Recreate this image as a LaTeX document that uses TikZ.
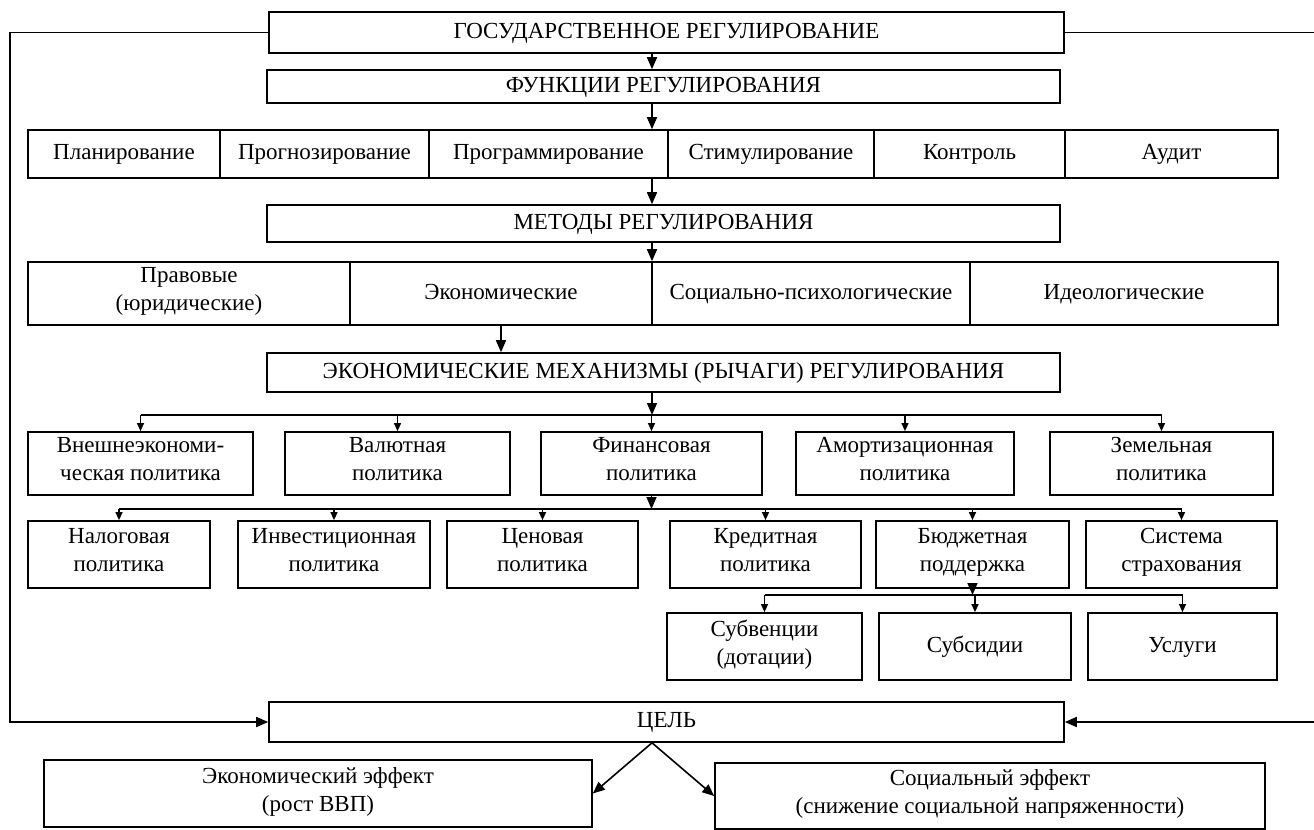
\documentclass[tikz,border=0pt]{standalone}
\usepackage{fontspec}
\setmainfont{Liberation Serif}
\usetikzlibrary{arrows.meta}
\tikzset{
  box/.style = {draw, inner sep=0pt, align=center, font=\fontsize{11.5}{14}\selectfont,
    execute at begin node=\strut, execute at end node=\strut},
  big/.style = {-{Triangle[length=6pt,width=5pt]}},
  small/.style = {-{Triangle[length=4pt,width=3.4pt]}}
}
% cell: name, x1, y1, x2, y2, text (picture units)
\newcommand{\cell}[6]{%
  \node[box, minimum width={(#4-#2)*0.5pt}, minimum height={(#5-#3)*0.5pt}]
    (#1) at ({(#2+#4)/2},{(#3+#5)/2}) {#6};%
}

\begin{document}
\begin{tikzpicture}[x=0.5pt, y=-0.5pt, line width=0.8pt]
  \useasboundingbox (0,0) rectangle (1314,830);
  \coordinate (spine) at (652,0);
  \coordinate (left) at (10,0);
  \coordinate (right) at (1314,0);
  \coordinate (br1) at (0,415);
  \coordinate (br2) at (0,509);
  \coordinate (br3) at (0,595);
  % top
  \cell{gov}{269}{12}{1064}{53}{ГОСУДАРСТВЕННОЕ РЕГУЛИРОВАНИЕ}
  \cell{func}{267}{70}{1060}{103}{ФУНКЦИИ РЕГУЛИРОВАНИЯ}
  \cell{f1}{28}{130}{220}{178}{Планирование}
  \cell{f2}{220}{130}{429}{178}{Прогнозирование}
  \cell{f3}{429}{130}{668}{178}{Программирование}
  \cell{f4}{668}{130}{874}{178}{Стимулирование}
  \cell{f5}{874}{130}{1065}{178}{Контроль}
  \cell{f6}{1065}{130}{1278}{178}{Аудит}
  \cell{meth}{267}{205}{1060}{242}{МЕТОДЫ РЕГУЛИРОВАНИЯ}
  \cell{m1}{28}{262}{350}{325}{Правовые\\(юридические)}
  \cell{m2}{350}{262}{652}{325}{Экономические}
  \cell{m3}{652}{262}{970}{325}{Социально-психологические}
  \cell{m4}{970}{262}{1278}{325}{Идеологические}
  \cell{mech}{267}{353}{1060}{392}{ЭКОНОМИЧЕСКИЕ МЕХАНИЗМЫ (РЫЧАГИ) РЕГУЛИРОВАНИЯ}
  % policies
  \cell{p1}{28}{432}{253}{495}{Внешнеэкономи-\\ческая политика}
  \cell{p2}{285}{432}{510}{495}{Валютная\\политика}
  \cell{p3}{541}{432}{762}{495}{Финансовая\\политика}
  \cell{p4}{796}{432}{1014}{495}{Амортизационная\\политика}
  \cell{p5}{1050}{432}{1273}{495}{Земельная\\политика}
  \cell{q1}{28}{521}{210}{588}{Налоговая\\политика}
  \cell{q2}{238}{521}{430}{588}{Инвестиционная\\политика}
  \cell{q3}{447}{521}{638}{588}{Ценовая\\политика}
  \cell{q4}{670}{521}{861}{588}{Кредитная\\политика}
  \cell{q5}{876}{521}{1069}{588}{Бюджетная\\поддержка}
  \cell{q6}{1086}{521}{1277}{588}{Система\\страхования}
  \cell{s1}{667}{613}{862}{680}{Субвенции\\(дотации)}
  \cell{s2}{879}{613}{1071}{680}{Субсидии}
  \cell{s3}{1088}{613}{1277}{680}{Услуги}
  % goal
  \cell{goal}{269}{702}{1064}{742}{ЦЕЛЬ}
  \cell{econ}{44}{760}{592}{827}{Экономический эффект\\(рост ВВП)}
  \cell{social}{715}{763}{1265}{829}{Социальный эффект\\(снижение социальной напряженности)}
  % arrows
  \draw[big] (gov.south -| spine) -- (func.north -| spine);
  \draw[big] (func.south -| spine) -- (f3.north -| spine);
  \draw[big] (f3.south -| spine) -- (meth.north -| spine);
  \draw[big] (meth.south -| spine) -- (m3.north -| spine);
  \draw[big] (m2.south) -- (m2.south |- mech.north);
  \draw[big] (mech.south -| spine) -- (spine |- br1);
  \draw (p1.north |- br1) -- (p5.north |- br1);
  \foreach \n in {p1,p2,p3,p4,p5}
    \draw[small] (\n.north |- br1) -- (\n.north);
  \draw[big] (p3.south) -- (p3.south |- br2);
  \draw (q1.north |- br2) -- (q6.north |- br2);
  \foreach \n in {q1,q2,q3,q4,q5,q6}
    \draw[small] (\n.north |- br2) -- (\n.north);
  \draw[big] (q5.south) -- (q5.south |- br3);
  \draw (s1.north |- br3) -- (s3.north |- br3);
  \foreach \n in {s1,s2,s3}
    \draw[small] (\n.north |- br3) -- (\n.north);
  % feedback
  \draw[big] (gov.west) -- (gov.west -| left) |- (goal.west);
  \draw (gov.east) -- (gov.east -| right);
  \draw[big] (goal.east -| right) -- (goal.east);
  \draw[big] (goal.south -| spine) -- (econ.east);
  \draw[big] (goal.south -| spine) -- (social.west);
\end{tikzpicture}
\end{document}
